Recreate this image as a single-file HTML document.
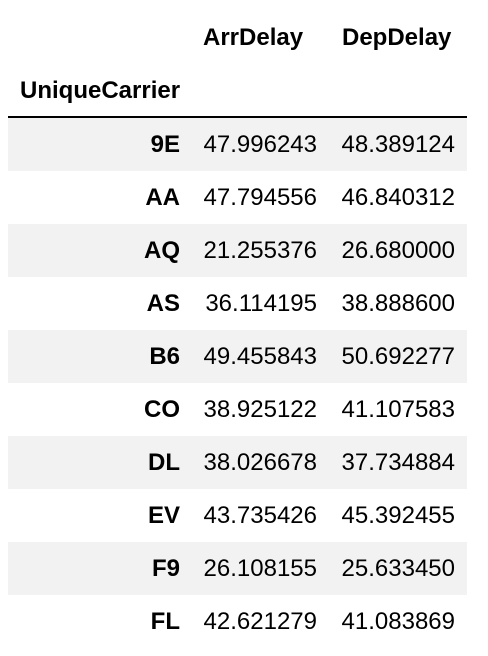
<!DOCTYPE html>
<html><head><meta charset="utf-8"><style>
body{margin:0;width:488px;height:656px;background:#fff;position:relative;overflow:hidden;font-family:"Liberation Sans",Arial,sans-serif;color:#000}
.t{position:absolute;font-size:24px;line-height:1;white-space:nowrap}
.b{font-weight:bold}
.r{position:absolute;left:8px;width:459px;height:53px}
</style></head><body>
<div class="t b" style="left:203px;top:26px">ArrDelay</div>
<div class="t b" style="left:342px;top:26px">DepDelay</div>
<div class="t b" style="left:20px;top:79px">UniqueCarrier</div>
<div style="position:absolute;left:8px;top:116px;width:459px;height:2px;background:#000"></div>
<div id="rows"></div>
<script>
const carriers=["9E","AA","AQ","AS","B6","CO","DL","EV","F9","FL"];
const arrDelay=["47.996243","47.794556","21.255376","36.114195","49.455843","38.925122","38.026678","43.735426","26.108155","42.621279"];
const depDelay=["48.389124","46.840312","26.680000","38.888600","50.692277","41.107583","37.734884","45.392455","25.633450","41.083869"];
const c=document.getElementById('rows');
carriers.forEach((k,i)=>{
  const top=118+i*53;
  const row=document.createElement('div');
  row.className='r';
  row.style.top=top+'px';
  row.style.background=i%2===0?'#f2f2f2':'#fff';
  
  
  c.appendChild(row);
  const mk=(txt,right,bold,name)=>{
    const d=document.createElement('div');
    d.className='t'+(bold?' b':'');
    d.textContent=txt;
    d.style.right=(488-right)+'px';
    d.style.top=(top+15)+'px';
    
    
    c.appendChild(d);
  };
  mk(k,180,true,'index-cell');
  mk(arrDelay[i],317,false,'arrdelay-cell');
  mk(depDelay[i],455,false,'depdelay-cell');
});
</script>
</body></html>
